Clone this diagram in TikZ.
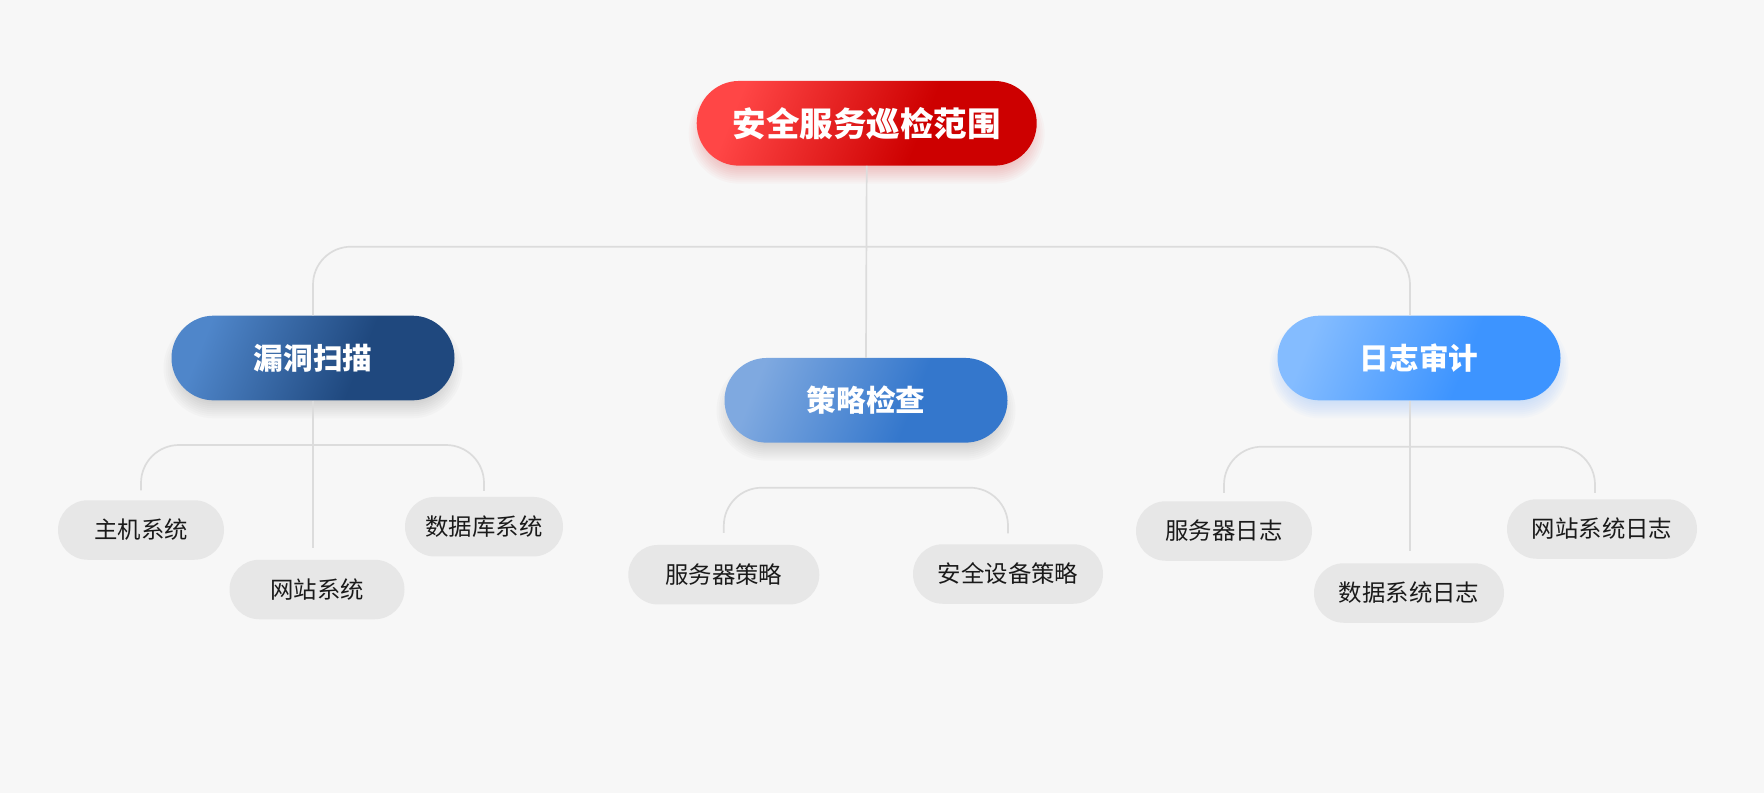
\documentclass[tikz,border=0pt]{standalone}
\usepackage{fontspec}
\newfontfamily\cjk{Noto Sans CJK SC}
\usetikzlibrary{calc}
\definecolor{bgc}{HTML}{F7F7F7}
\definecolor{linec}{HTML}{DCDCDC}
\definecolor{leafc}{HTML}{E7E7E7}
\definecolor{leaft}{HTML}{1A1A1A}
\definecolor{rA}{HTML}{FF4646}
\definecolor{rB}{HTML}{CD0000}
\definecolor{dA}{HTML}{4F86CA}
\definecolor{dB}{HTML}{1F487E}
\definecolor{mA}{HTML}{7FA9E0}
\definecolor{mB}{HTML}{3477CC}
\definecolor{lA}{HTML}{84BCFF}
\definecolor{lB}{HTML}{3D94FF}
\pgfdeclarehorizontalshading{redgrad}{100bp}{color(0bp)=(rA); color(26bp)=(rA); color(60bp)=(rB); color(100bp)=(rB)}
\pgfdeclarehorizontalshading{darkgrad}{100bp}{color(0bp)=(dA); color(26bp)=(dA); color(60bp)=(dB); color(100bp)=(dB)}
\pgfdeclarehorizontalshading{midgrad}{100bp}{color(0bp)=(mA); color(26bp)=(mA); color(60bp)=(mB); color(100bp)=(mB)}
\pgfdeclarehorizontalshading{lightgrad}{100bp}{color(0bp)=(lA); color(26bp)=(lA); color(60bp)=(lB); color(100bp)=(lB)}
\newcommand{\glowbox}[5]{%
  \foreach \i in {1,...,9}{%
    \pgfmathsetmacro{\hw}{#3/2-10+\i*2.0}%
    \pgfmathsetmacro{\hh}{#4/2-10+\i*2.0}%
    \fill[#5, opacity=0.025, rounded corners=\hh pt] ($(#1,#2+10)+(-\hw,-\hh)$) rectangle ($(#1,#2+10)+(\hw,\hh)$);
  }}
\tikzset{
  conn/.style={draw=linec, line width=1.7pt},
  pill/.style={shape=rectangle, inner sep=0pt, text=white, minimum width=283pt, minimum height=84.7pt, rounded corners=42.35pt, shading angle=-22, font=\cjk\bfseries\fontsize{29.6}{34}\selectfont},
  leaf/.style={shape=rectangle, inner sep=0pt, fill=leafc, text=leaft, minimum height=59.5pt, rounded corners=29.75pt, font=\cjk\fontsize{23.4}{28}\selectfont},
}
\begin{document}
\begin{tikzpicture}[x=1pt,y=-1pt]
\fill[bgc] (0,0) rectangle (1764,793);
\useasboundingbox (0,0) rectangle (1764,793);
% glows
\glowbox{866.7}{123.3}{340}{84.7}{rB}
\glowbox{313}{358}{283}{84.7}{black!70}
\glowbox{866}{400.3}{283}{84.7}{black!70}
\glowbox{1419}{358}{283}{84.7}{lB}
% main nodes
\node[pill, shading=redgrad, minimum width=340pt, font=\cjk\bfseries\fontsize{33.5}{38}\selectfont] (root) at (866.7,123.3) {安全服务巡检范围};
\node[pill, shading=darkgrad] (l1) at (313,358) {漏洞扫描};
\node[pill, shading=midgrad] (l2) at (866,400.3) {策略检查};
\node[pill, shading=lightgrad] (l3) at (1419,358) {日志审计};
% leaves
\node[leaf, minimum width=166pt] (a1) at (141,530) {主机系统};
\node[leaf, minimum width=175pt] (a2) at (317,589.5) {网站系统};
\node[leaf, minimum width=158pt] (a3) at (484,526.7) {数据库系统};
\node[leaf, minimum width=191pt] (b1) at (723.8,574.7) {服务器策略};
\node[leaf, minimum width=190pt] (b2) at (1008,574) {安全设备策略};
\node[leaf, minimum width=176pt] (c1) at (1224,531) {服务器日志};
\node[leaf, minimum width=190pt] (c2) at (1409,593) {数据系统日志};
\node[leaf, minimum width=190pt] (c3) at (1602,529) {网站系统日志};
% connectors
\coordinate (topy) at (0,246.7);
\draw[conn, rounded corners=38pt] (l1.north) -- (l1.north |- topy) -- ([xshift=-9pt]l3.north |- topy) -- ([xshift=-9pt]l3.north);
\draw[conn] (root.south) -- (l2.north);
\coordinate (e1) at (0,548);
\draw[conn] (l1.south) -- (l1.south |- e1);
\coordinate (hb1) at (0,445);
\draw[conn, rounded corners=38pt] ([yshift=9.8pt]a1.north) -- (a1.north |- hb1) -- (a3.north |- hb1) -- ([yshift=6pt]a3.north);
\coordinate (hb2) at (0,487.7);
\draw[conn, rounded corners=38pt] ([yshift=12pt]b1.north) -- (b1.north |- hb2) -- (b2.north |- hb2) -- ([yshift=10.7pt]b2.north);
\coordinate (hb3) at (0,446.7);
\draw[conn, rounded corners=38pt] ([yshift=8.3pt]c1.north) -- (c1.north |- hb3) -- ([xshift=-7pt]c3.north |- hb3) -- ([xshift=-7pt,yshift=6.3pt]c3.north);
\coordinate (e3) at (0,550.7);
\draw[conn] ([xshift=-9pt]l3.south) -- ([xshift=-9pt]l3.south |- e3);
\end{tikzpicture}
\end{document}
